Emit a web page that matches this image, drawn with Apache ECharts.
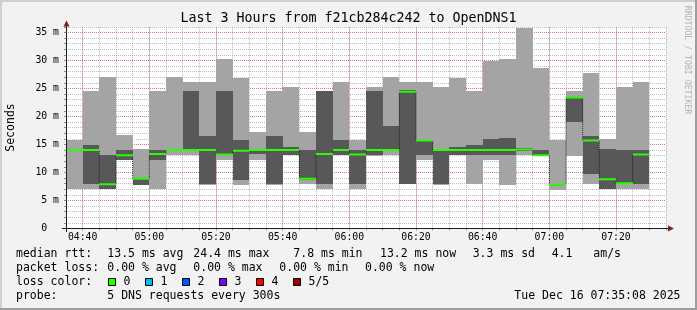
<!DOCTYPE html>
<html><head><meta charset="utf-8">
<script src="https://cdn.jsdelivr.net/npm/echarts@6/dist/echarts.min.js"></script>
<style>html,body{margin:0;padding:0;background:#f2f2f2}#c{width:697px;height:310px}</style>
</head><body><div id="c"></div>
<script>
// ---- data ----
const binStart = ['04:35','04:40','04:45','04:50','04:55','05:00','05:05','05:10','05:15','05:20',
  '05:25','05:30','05:35','05:40','05:45','05:50','05:55','06:00','06:05','06:10',
  '06:15','06:20','06:25','06:30','06:35','06:40','06:45','06:50','06:55','07:00',
  '07:05','07:10','07:15','07:20','07:25'];
// sorted pings per 5-minute round (ms): ping1 = fastest ... ping5 = slowest
const ping1  = [7.0,7.0,7.0,12.2,7.8,7.0,13.1,13.1,7.8,12.2, 7.8,12.2,7.8,13.1,7.9,7.0,13.1,7.0,12.9,13.1, 7.9,12.2,7.8,13.1,7.9,12.2,7.8,13.1,13.1,6.9, 12.9,7.9,7.0,7.0,7.0];
const ping2  = [13.9,7.9,7.1,12.2,7.8,12.2,13.9,14.0,7.9,13.1, 8.7,13.3,7.9,13.1,8.7,7.9,13.1,7.9,13.1,13.9, 7.9,13.1,7.9,13.1,13.1,13.1,13.1,13.9,13.1,7.7, 19.0,9.7,7.0,7.9,7.9];
const median = [14.0,14.0,7.9,13.1,8.9,13.3,14.0,14.0,14.0,13.2, 13.9,14.0,14.0,14.0,8.9,13.3,14.0,13.2,14.0,14.0, 24.4,15.7,14.0,14.0,14.0,14.0,14.0,14.1,13.1,7.8, 23.4,15.7,8.8,8.1,13.2];
const ping4  = [14.1,14.9,13.2,14.0,8.9,14.0,14.1,24.5,16.5,24.5, 15.8,14.1,16.6,14.6,14.0,24.5,15.8,14.0,24.5,18.3, 24.8,15.8,14.1,14.5,14.9,16.0,16.2,14.4,14.0,7.9, 23.5,16.5,14.2,14.0,14.0];
const ping5  = [15.8,24.5,27.0,16.7,14.2,24.5,27.0,26.1,26.1,30.3, 26.8,17.3,24.6,25.2,17.2,24.6,26.1,15.8,25.2,27.0, 26.1,26.1,25.2,26.8,24.5,30.0,30.2,35.8,28.7,15.8, 24.5,27.7,16.0,25.2,26.1];
const yMajorTicks = [5,10,15,20,25,30,35];
const xMajorTicks = ['04:40','05:00','05:20','05:40','06:00','06:20','06:40','07:00','07:20'];
const titleText = 'Last 3 Hours from f21cb284c242 to OpenDNS1';
const rttStats  = ['13.5 ms avg','24.4 ms max','7.8 ms min','13.2 ms now','3.3 ms sd','4.1','am/s'];
const lossStats = ['0.00 % avg','0.00 % max','0.00 % min','0.00 % now'];
const lossLabels = ['0','1','2','3','4','5/5'];
const lossColors = ['#26ff00','#00b8ff','#0059ff','#7e00ff','#ff0000','#a00000'];
const probeText = '5 DNS requests every 300s';
const stampText = 'Tue Dec 16 07:35:08 2025';

// ---- helpers / layout ----
const STEP = 5;
const toMin = s => { const p = s.split(':').map(Number); return p[0]*60 + p[1]; };
const fmt = v => String(Math.floor(v/60)).padStart(2,'0') + ':' + String(v%60).padStart(2,'0');
const MONO = '"DejaVu Sans Mono", monospace';
const LEG_FONT = '11.5px ' + MONO;

const smokeData = binStart.map((s,i) => [toMin(s), ping1[i], ping2[i], median[i], ping4[i], ping5[i]]);
const stepData = binStart.map((s,i) => [toMin(s), median[i]]);
stepData.push([toMin(binStart[binStart.length-1]) + STEP, median[median.length-1]]);

function txt(s, x, y, font, align, extra) {
  return Object.assign({type:'text', x:x, y:y, silent:true, z:10,
    style:{text:s, fill:'#000', font:font, textAlign:align||'left', align:align||'left',
      textVerticalAlign:'middle', verticalAlign:'middle'}}, extra||{});
}
const g = [];
// frame
g.push({type:'rect', shape:{x:0,y:0,width:697,height:2}, style:{fill:'#cfcfcf'}, silent:true});
g.push({type:'rect', shape:{x:0,y:0,width:2,height:310}, style:{fill:'#cfcfcf'}, silent:true});
g.push({type:'rect', shape:{x:0,y:308,width:697,height:2}, style:{fill:'#9e9e9e'}, silent:true});
g.push({type:'rect', shape:{x:695,y:0,width:2,height:310}, style:{fill:'#9e9e9e'}, silent:true});
// title, axis name, watermark
g.push(txt(titleText, 348.5, 19, '13.3px ' + MONO, 'center'));
g.push(txt('Seconds', 11, 127.5, LEG_FONT, 'center', {rotation: Math.PI/2}));
const wm = txt('RRDTOOL / TOBI OETIKER', 687, 60, '8.2px ' + MONO, 'center', {rotation: -Math.PI/2});
wm.style.fill = '#b4b4b4';
g.push(wm);
// axis lines and arrows
g.push({type:'line', shape:{x1:66.5,y1:232,x2:66.5,y2:25}, style:{stroke:'#1f1f1f',lineWidth:1}, silent:true, z:8});
g.push({type:'line', shape:{x1:62,y1:228.5,x2:669,y2:228.5}, style:{stroke:'#1f1f1f',lineWidth:1}, silent:true, z:8});
g.push({type:'polygon', shape:{points:[[63.5,26.5],[69.5,26.5],[66.5,20.5]]}, style:{fill:'#801f1f'}, silent:true, z:8});
g.push({type:'polygon', shape:{points:[[668,225.5],[668,231.5],[674,228.5]]}, style:{fill:'#801f1f'}, silent:true, z:8});
// legend rows
const rowY = [254, 268.3, 282, 296];
const rttX = [107.3, 193.3, 293.3, 380, 472.7, 551.7, 593.3];
const lossX = [107.3, 193.3, 279.3, 365];
const boxX = [108.5, 145.5, 182.5, 219.5, 256.5, 293.5];
g.push(txt('median rtt:', 16, rowY[0], LEG_FONT));
rttStats.forEach((s,i) => g.push(txt(s, rttX[i], rowY[0], LEG_FONT)));
g.push(txt('packet loss:', 16, rowY[1], LEG_FONT));
lossStats.forEach((s,i) => g.push(txt(s, lossX[i], rowY[1], LEG_FONT)));
g.push(txt('loss color:', 16, rowY[2], LEG_FONT));
lossLabels.forEach((s,i) => {
  g.push({type:'rect', shape:{x:boxX[i], y:rowY[2]-3.5, width:7, height:7}, style:{fill:lossColors[i], stroke:'#000', lineWidth:1}, silent:true, z:10});
  g.push(txt(s, boxX[i]+15, rowY[2], LEG_FONT));
});
g.push(txt('probe:', 16, rowY[3], LEG_FONT));
g.push(txt(probeText, 107.3, rowY[3], LEG_FONT));
g.push(txt(stampText, 680.5, rowY[3], LEG_FONT, 'right'));

const chart = echarts.init(document.getElementById('c'), null, {renderer:'canvas'});
chart.setOption({
  animation: false,
  backgroundColor: '#f2f2f2',
  grid: {left:66, right:31, top:26.9, bottom:81.5, show:true, backgroundColor:'#ffffff', borderWidth:0,
         containLabel:false, outerBoundsMode:'none'},
  xAxis: {type:'value', min:toMin(binStart[0]), max:toMin(binStart[0])+180, interval:STEP, z:0,
    axisLine:{show:false},
    axisTick:{show:true, length:2, lineStyle:{color:'#8f8f8f'}},
    axisLabel:{margin:4, color:'#000', fontFamily:'DejaVu Sans Mono', fontSize:9.8,
      formatter: v => (v % 20 === 0 ? fmt(v) : '')},
    splitLine:{show:true, lineStyle:{color:'rgba(143,143,143,0.6)', type:[1,1], width:1}}},
  yAxis: {type:'value', min:0, max:36, interval:1, z:0,
    axisLine:{show:false},
    axisTick:{show:true, length:2, lineStyle:{color:'#8f8f8f'}},
    axisLabel:{margin:7, color:'#000', fontFamily:'DejaVu Sans Mono', fontSize:9.8,
      formatter: v => (v % 5 === 0 ? (v === 0 ? '0  ' : v + ' m') : '')},
    splitLine:{show:true, lineStyle:{color:'rgba(143,143,143,0.6)', type:[1,1], width:1}}},
  graphic: g,
  series: [
    { type:'line', data:[], z:1, silent:true, symbol:'none',
      markLine:{z:1, silent:true, symbol:['none','none'], label:{show:false}, animation:false,
        lineStyle:{color:'rgba(222,79,79,0.6)', type:[1,1], width:1},
        data: xMajorTicks.map(t => ({xAxis: toMin(t)})).concat(yMajorTicks.map(v => ({yAxis: v})))}},
    { type:'custom', z:3, clip:true, silent:true, data:smokeData,
      encode:{x:0, y:[1,2,3,4,5]},
      renderItem: function(params, api) {
        const t = api.value(0);
        const a = api.coord([t, api.value(5)]), b = api.coord([t + STEP, api.value(1)]);
        const c = api.coord([t, api.value(4)]), d = api.coord([t + STEP, api.value(2)]);
        const R = Math.round;
        return {type:'group', children:[
          {type:'rect', shape:{x:R(a[0]), y:R(a[1]), width:R(b[0])-R(a[0]), height:R(b[1])-R(a[1])}, style:{fill:'#a4a4a4'}},
          {type:'rect', shape:{x:R(c[0]), y:R(c[1]), width:R(d[0])-R(c[0]), height:Math.max(R(d[1])-R(c[1]),0)}, style:{fill:'#585858'}}
        ]};
      }},
    { type:'line', z:4, silent:true, data:stepData, step:'end', symbol:'none',
      lineStyle:{color:'#202020', width:1, type:[1,1]} },
    { type:'custom', z:5, clip:true, silent:true, data:smokeData,
      encode:{x:0, y:3},
      renderItem: function(params, api) {
        const t = api.value(0), m = api.value(3);
        const p = api.coord([t, m]), q = api.coord([t + STEP, m]);
        const R = Math.round;
        return {type:'line', shape:{x1:R(p[0]), y1:p[1], x2:R(q[0]), y2:p[1]},
          style:{stroke:lossColors[0], lineWidth:2}};
      }}
  ]
});
</script></body></html>
